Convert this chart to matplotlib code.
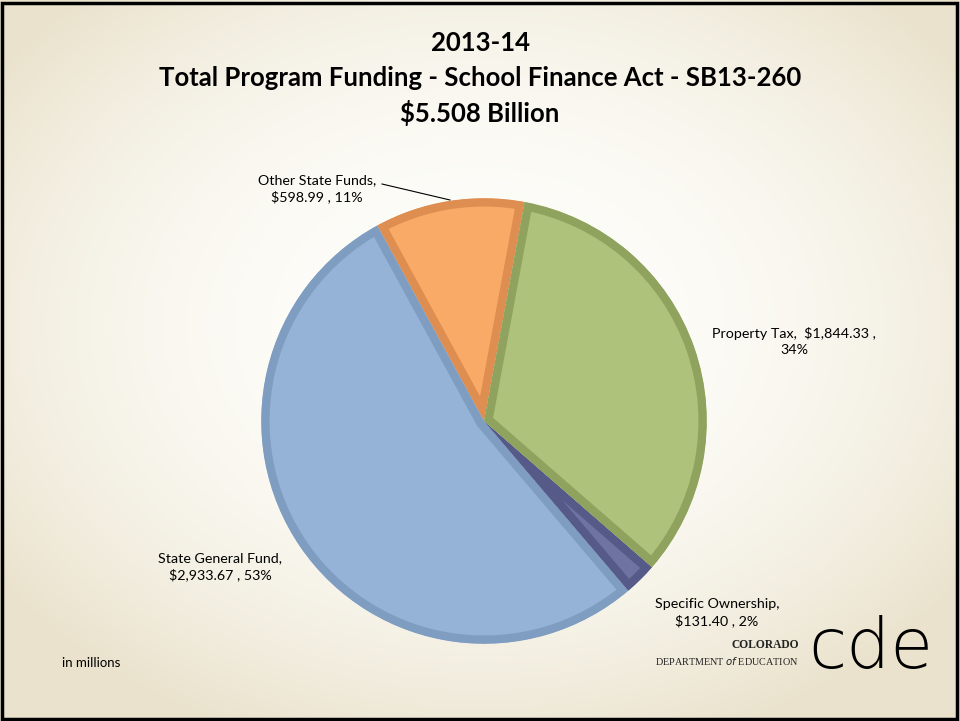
import numpy as np
import matplotlib.pyplot as plt
from matplotlib.patches import Rectangle, Wedge
from matplotlib.colors import to_rgb

# Funding sources, in millions (drawn counter-clockwise from the top)
sources = ["Other State Funds", "State General Fund", "Specific Ownership", "Property Tax"]
amounts = [598.99, 2933.67, 131.40, 1844.33]
pct_labels = [11, 53, 2, 34]

fills = ["#F9AA66", "#95B3D7", "#6E73A2", "#AEC27B"]
bands = ["#DD8E50", "#7F9DC1", "#565A88", "#8FA25E"]

W, H = 960, 721
fig = plt.figure(figsize=(W / 100, H / 100), dpi=100)

# soft beige slide background, lighter in the middle
bg = fig.add_axes([0, 0, 1, 1])
yy, xx = np.mgrid[0:H, 0:W]
r = np.sqrt(((xx - W * 0.5) / (W * 0.62)) ** 2 + ((yy - H * 0.45) / (H * 0.62)) ** 2)
t = np.clip(r, 0, 1) ** 2.2
light = np.array(to_rgb("#FEFEFB"))
dark = np.array(to_rgb("#EAE2CC"))
img = light[None, None, :] * (1 - t[..., None]) + dark[None, None, :] * t[..., None]
bg.imshow(img, aspect="auto", extent=[0, W, H, 0])
bg.set_xlim(0, W)
bg.set_ylim(H, 0)
bg.axis("off")

fig.patches.append(Rectangle((2 / W, 2 / H), 1 - 5 / W, 1 - 5 / H, transform=fig.transFigure,
                             fill=False, edgecolor="black", linewidth=2.5, zorder=10))

# pie
cx, cy, rad = 484, 421, 225
ax = fig.add_axes([(cx - rad) / W, (H - cy - rad) / H, 2 * rad / W, 2 * rad / H])
wedges, _ = ax.pie(amounts, colors=fills, startangle=79.5, counterclock=True,
                   wedgeprops=dict(linewidth=0))
# darker bevel band along the inside of every slice
for w, band in zip(wedges, bands):
    clip = Wedge(w.center, w.r, w.theta1, w.theta2, transform=ax.transData)
    w.set_edgecolor(band)
    w.set_linewidth(12)
    w.set_joinstyle("round")
    w.set_clip_on(True)
    w.set_clip_path(clip)
ax.set_aspect("equal")
ax.set_xlim(-1.01, 1.01)
ax.set_ylim(-1.01, 1.01)
ax.axis("off")

font = ["Lato", "DejaVu Sans"]

title_kw = dict(ha="center", va="center", fontsize=18.5, fontweight="bold", family=font)
fig.text(0.5, 1 - 43 / H, "2013-14", **title_kw)
fig.text(0.5, 1 - 78 / H, "Total Program Funding - School Finance Act - SB13-260", **title_kw)
fig.text(0.5, 1 - 113 / H, "$5.508 Billion", **title_kw)


def label(i, sep=",\n"):
    return f"{sources[i]}{sep}${amounts[i]:,.2f} , {pct_labels[i]}%"


lab_kw = dict(ha="center", va="center", fontsize=10.3, family=font, linespacing=1.4)
fig.text(317 / W, 1 - 189 / H, label(0), **lab_kw)
fig.text(220 / W, 1 - 567 / H, label(1), **lab_kw)
fig.text(717 / W, 1 - 613 / H, label(2), **lab_kw)
fig.text(794 / W, 1 - 341 / H, f"{sources[3]},  ${amounts[3]:,.2f} ,\n{pct_labels[3]}%", **lab_kw)

# leader line for the small top slice
bg.plot([382, 450], [184, 200], color="black", linewidth=0.8)

fig.text(62 / W, 1 - 663 / H, "in millions", ha="left", va="center", fontsize=9.5, family=font)

fig.text(799 / W, 1 - 645 / H, "COLORADO", ha="right", va="center", fontsize=8.3,
         fontweight="bold", family="Liberation Serif", color="#222222")
fig.text(799 / W, 1 - 661 / H, r"DEPARTMENT $\it{of}$ EDUCATION", ha="right", va="center",
         fontsize=7.3, family="Liberation Serif", color="#222222")
fig.text(871 / W, 1 - 649 / H, "cde", ha="center", va="center", fontsize=50,
         fontweight="light", family="DejaVu Sans", color="black")

fig.savefig("out.png", dpi=100)
